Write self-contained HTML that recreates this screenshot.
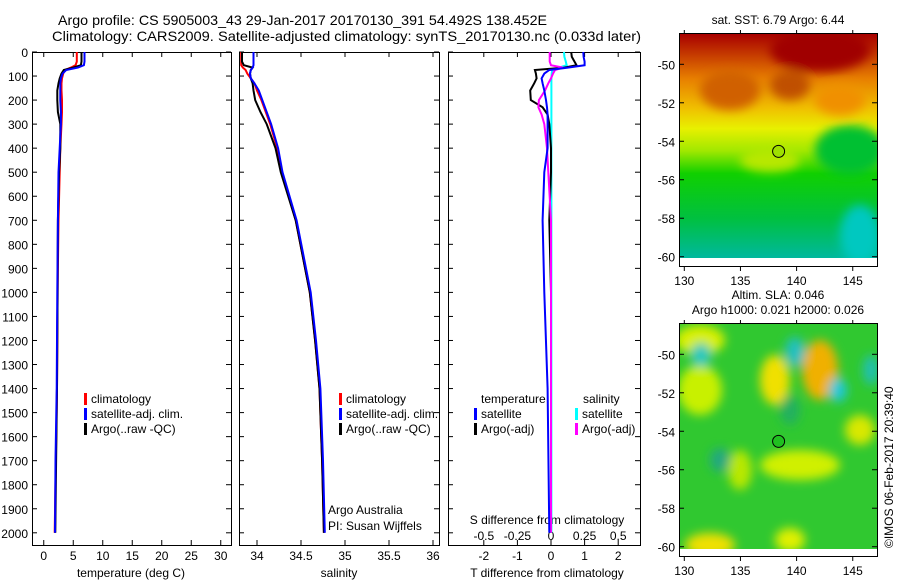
<!DOCTYPE html>
<html><head><meta charset="utf-8"><style>
body{margin:0;background:#fff;}
svg{display:block;font-family:"Liberation Sans",sans-serif;}
</style></head><body>
<svg id="s" width="900" height="580" viewBox="0 0 900 580">
<defs>
<linearGradient id="sst" x1="0" y1="0" x2="0" y2="1">
<stop offset="0" stop-color="#a80000"/><stop offset="0.1" stop-color="#c84000"/><stop offset="0.2" stop-color="#e88000"/><stop offset="0.33" stop-color="#f0c000"/><stop offset="0.42" stop-color="#e8f000"/><stop offset="0.52" stop-color="#a0e800"/><stop offset="0.62" stop-color="#10d000"/><stop offset="0.82" stop-color="#00c040"/><stop offset="1" stop-color="#00b8a0"/>
</linearGradient>
<filter id="bl"><feGaussianBlur stdDeviation="5"/></filter>
<clipPath id="c1"><rect x="679" y="34" width="198" height="225"/></clipPath>
<clipPath id="c2"><rect x="679" y="324" width="198" height="225"/></clipPath>
</defs>
<text x="58" y="25" font-size="14" textLength="489" lengthAdjust="spacingAndGlyphs">Argo profile: CS 5905003_43 29-Jan-2017 20170130_391 54.492S 138.452E</text>
<text x="52" y="41" font-size="14" textLength="589" lengthAdjust="spacingAndGlyphs">Climatology: CARS2009. Satellite-adjusted climatology: synTS_20170130.nc (0.033d later)</text>
<g id="maps">
<text x="778" y="24" font-size="12" text-anchor="middle">sat. SST: 6.79 Argo: 6.44</text>
<g clip-path="url(#c1)">
<rect x="679" y="34" width="198" height="225" fill="url(#sst)"/>
<g filter="url(#bl)">
<ellipse cx="820" cy="50" rx="50" ry="22" fill="#a00000"/>
<ellipse cx="730" cy="90" rx="30" ry="20" fill="#d06000"/>
<ellipse cx="790" cy="85" rx="20" ry="15" fill="#c05000"/>
<ellipse cx="840" cy="100" rx="25" ry="15" fill="#f09000"/>
<ellipse cx="850" cy="150" rx="35" ry="25" fill="#00c030"/>
<ellipse cx="770" cy="160" rx="30" ry="12" fill="#b8e800"/>
<ellipse cx="860" cy="235" rx="20" ry="30" fill="#00c8c0"/>
</g>
</g>
<rect x="679" y="258" width="198" height="9" fill="#fff"/>
<rect x="679.5" y="33.5" width="198" height="233" fill="none" stroke="#000"/>
<circle cx="778.6" cy="151.4" r="6" fill="#9ee000" stroke="#000"/>
<text x="778" y="299" font-size="12" text-anchor="middle">Altim. SLA: 0.046</text>
<text x="778" y="314" font-size="12" text-anchor="middle">Argo h1000: 0.021 h2000: 0.026</text>
<g clip-path="url(#c2)">
<rect x="679" y="324" width="198" height="225" fill="#30c830"/>
<g filter="url(#bl)">
<ellipse cx="700" cy="340" rx="25" ry="15" fill="#d8f000"/>
<ellipse cx="775" cy="380" rx="15" ry="25" fill="#f0e000"/>
<ellipse cx="820" cy="370" rx="18" ry="30" fill="#f0b000"/>
<ellipse cx="700" cy="390" rx="22" ry="25" fill="#c8f000"/>
<ellipse cx="800" cy="465" rx="40" ry="15" fill="#d0f000"/>
<ellipse cx="860" cy="430" rx="15" ry="15" fill="#d8e800"/>
<ellipse cx="710" cy="545" rx="25" ry="12" fill="#f0e000"/>
<ellipse cx="790" cy="540" rx="15" ry="12" fill="#e0f000"/>
<ellipse cx="740" cy="470" rx="12" ry="20" fill="#b8e800"/>
<ellipse cx="701" cy="355" rx="10" ry="12" fill="#20c8c0"/>
<ellipse cx="795" cy="352" rx="10" ry="15" fill="#20c0c0"/>
<ellipse cx="838" cy="390" rx="9" ry="12" fill="#20c8d8"/>
<ellipse cx="871" cy="370" rx="8" ry="15" fill="#20c0b0"/>
<ellipse cx="720" cy="460" rx="10" ry="12" fill="#20a880"/>
<ellipse cx="790" cy="410" rx="10" ry="15" fill="#20b060"/>
</g>
</g>
<rect x="679" y="549" width="198" height="8" fill="#fff"/>
<rect x="679.5" y="323.5" width="198" height="233" fill="none" stroke="#000"/>
<circle cx="778.6" cy="441.4" r="6" fill="#20c020" stroke="#000"/>
<text transform="translate(893,548) rotate(-90)" font-size="12">©IMOS 06-Feb-2017 20:39:40</text>
</g>
</svg>
<script>
const depthTicks=[0,100,200,300,400,500,600,700,800,900,1000,1100,1200,1300,1400,1500,1600,1700,1800,1900,2000];
const tempTicks=[0,5,10,15,20,25,30];
const salTicks=[34,34.5,35,35.5,36];
const tdTicks=[-2,-1,0,1,2];
const sdTicks=[-0.5,-0.25,0,0.25,0.5];
const sdLabels=["-0.5","-0.25","0","0.25","0.5"];
const latTicks=[-50,-52,-54,-56,-58,-60];
const lonTicks=[130,135,140,145];
const depths=[0,20,40,55,65,75,90,110,130,160,200,250,300,400,500,700,1000,1200,1400,1700,2000];
const tempClim=[5.6,5.6,5.6,5.4,4.6,3.6,3.3,3.1,3.0,3.0,3.1,3.1,3.0,2.8,2.7,2.5,2.35,2.3,2.25,2.05,1.85];
const tempSat=[6.9,6.9,6.9,6.8,5.8,3.8,3.2,2.9,2.8,2.8,2.8,2.9,2.9,2.7,2.5,2.4,2.3,2.25,2.2,2.0,1.9];
const tempArgo=[6.4,6.4,6.4,6.3,5.0,3.4,3.0,2.7,2.5,2.3,2.3,2.4,2.8,2.8,2.6,2.4,2.35,2.3,2.25,2.1,1.95];
const salClim=[33.82,33.82,33.82,33.82,33.84,33.87,33.89,33.93,33.97,34.0,34.05,34.1,34.15,34.23,34.28,34.44,34.60,34.66,34.71,34.74,34.76];
const salSat=[33.96,33.96,33.96,33.96,33.95,33.93,33.92,33.93,33.97,34.02,34.06,34.11,34.16,34.24,34.29,34.45,34.61,34.67,34.72,34.75,34.77];
const salArgo=[33.83,33.83,33.83,33.85,33.95,33.93,33.92,33.93,33.95,33.96,33.98,34.04,34.11,34.21,34.27,34.44,34.60,34.66,34.71,34.74,34.76];
const diffDepths=[0,20,40,55,65,75,90,110,130,160,200,230,260,300,400,500,700,1000,1400,2000];
const tdSat=[0.96,0.97,1.0,1.0,0.5,-0.05,-0.2,-0.28,-0.25,-0.2,-0.15,-0.12,-0.1,-0.1,-0.1,-0.2,-0.25,-0.2,-0.1,-0.05];
const tdArgo=[0.6,0.62,0.7,0.76,0.4,-0.48,-0.45,-0.43,-0.5,-0.62,-0.6,-0.25,-0.1,-0.05,0,0,-0.05,0,0,0];
const sdSat=[0.097,0.1,0.11,0.117,0.06,0.01,0.005,0.003,0.003,0.003,0.003,0.003,0.003,0.003,0.003,0.003,0.003,0.003,0.003,0.003];
const sdArgo=[-0.01,-0.01,-0.01,0,0.09,0.03,0.015,0.0,-0.02,-0.045,-0.09,-0.094,-0.07,-0.05,-0.03,-0.02,0,0,0,0];

const NS='http://www.w3.org/2000/svg';
const svg=document.getElementById('s');
function mk(tag,attrs,parent){const e=document.createElementNS(NS,tag);for(const k in attrs)e.setAttribute(k,attrs[k]);(parent||svg).appendChild(e);return e;}
const yD=d=>52+d*0.2404;
const xT=v=>43.75+v*5.9;
const xS=v=>257+(v-34)*88;
const xTD=v=>551+v*33.6;
const xSD=v=>551+v*134.4;
const PT=545;
const panels=[{x0:32,x1:231,name:'temperature-panel'},{x0:239,x1:439,name:'salinity-panel'},{x0:448,x1:640,name:'difference-panel'}];
panels.forEach(p=>{
  const r=mk('rect',{x:p.x0+0.5,y:52.5,width:p.x1-p.x0,height:PT-52,fill:'none',stroke:'#000'});
  
  
  depthTicks.forEach(d=>{
    mk('line',{x1:p.x0,x2:p.x0+5,y1:yD(d),y2:yD(d),stroke:'#000'});
    mk('line',{x1:p.x1-5,x2:p.x1,y1:yD(d),y2:yD(d),stroke:'#000'});
  });
});
depthTicks.forEach(d=>{
  const t=mk('text',{x:28,y:yD(d)+5,'font-size':12,'text-anchor':'end'});
  t.textContent=d;
  
  
});
function xticks(ticks,labels,fx,y,name,p){
  ticks.forEach((v,i)=>{
    const x=fx(v);
    if(p){mk('line',{x1:x,x2:x,y1:52,y2:57,stroke:'#000'});mk('line',{x1:x,x2:x,y1:PT-5,y2:PT,stroke:'#000'});}
    const t=mk('text',{x:x,y:y,'font-size':12,'text-anchor':'middle'});
    t.textContent=labels?labels[i]:v;
    
    
  });
}
xticks(tempTicks,null,xT,560,'temperature-tick-label',true);
xticks(salTicks,null,xS,560,'salinity-tick-label',true);
xticks(tdTicks,null,xTD,560,'tdiff-tick-label',true);
xticks(sdTicks,sdLabels,xSD,540,'sdiff-tick-label',false);
function label(x,y,txt,name,anchor){const t=mk('text',{x:x,y:y,'font-size':12,'text-anchor':anchor||'start'});t.textContent=txt;return t;}
label(131,577,'temperature (deg C)','temperature-axis-title','middle');
label(339,577,'salinity','salinity-axis-title','middle');
label(547,577,'T difference from climatology','tdiff-axis-title','middle');
label(547,524,'S difference from climatology','sdiff-axis-title','middle');
label(328,514,'Argo Australia','argo-australia-label');
label(328,530,'PI: Susan Wijffels','pi-label');
function line(xs,ds,fx,col,name,w){
  let dstr='';
  xs.forEach((v,i)=>{dstr+=(i?'L':'M')+fx(v).toFixed(1)+' '+yD(ds[i]).toFixed(1);});
  const p=mk('path',{d:dstr,fill:'none',stroke:col,'stroke-width':w||2});
  
  
}
line(tempClim,depths,xT,'#f00','temp-climatology-line');
line(tempArgo,depths,xT,'#000','temp-argo-line');
line(tempSat,depths,xT,'#00f','temp-satellite-line');
line(salClim,depths,xS,'#f00','sal-climatology-line');
line(salArgo,depths,xS,'#000','sal-argo-line');
line(salSat,depths,xS,'#00f','sal-satellite-line');
line(sdSat,diffDepths,xSD,'#0ff','sdiff-satellite-line');
line(tdArgo,diffDepths,xTD,'#000','tdiff-argo-line');
line(sdArgo,diffDepths,xSD,'#f0f','sdiff-argo-line');
line(tdSat,diffDepths,xTD,'#00f','tdiff-satellite-line');
function leg(x,y,col,txt,name){
  const g=mk('g',{});
  
  
  mk('rect',{x:x,y:y-10,width:3,height:12,fill:col},g);
  const t=mk('text',{x:x+7,y:y,'font-size':12},g);t.textContent=txt;
}
[[84,'temp'],[339,'sal']].forEach(([x,n])=>{
  leg(x,403,'#f00','climatology',n+'-legend-climatology');
  leg(x,418,'#00f','satellite-adj. clim.',n+'-legend-satellite');
  leg(x,433,'#000','Argo(..raw -QC)',n+'-legend-argo');
});
label(481,403,'temperature','legend-temperature-header');
label(583,403,'salinity','legend-salinity-header');
leg(474,418,'#00f','satellite','legend-tdiff-satellite');
leg(474,433,'#000','Argo(-adj)','legend-tdiff-argo');
leg(575,418,'#0ff','satellite','legend-sdiff-satellite');
leg(575,433,'#f0f','Argo(-adj)','legend-sdiff-argo');
const lonX=v=>684.3+(v-130)*11.23;
[[0,'sst'],[290,'sla']].forEach(([off,n])=>{
  const latY=v=>64.3+off+(-50-v)*19.24;
  latTicks.forEach(v=>{
    mk('line',{x1:679,x2:684,y1:latY(v),y2:latY(v),stroke:'#000'});
    mk('line',{x1:872,x2:877,y1:latY(v),y2:latY(v),stroke:'#000'});
    const t=mk('text',{x:675,y:latY(v)+5,'font-size':12,'text-anchor':'end'});t.textContent=v;
    
    
  });
  lonTicks.forEach(v=>{
    mk('line',{x1:lonX(v),x2:lonX(v),y1:34+off,y2:30+off,stroke:'#000'});
    mk('line',{x1:lonX(v),x2:lonX(v),y1:267+off,y2:271+off,stroke:'#000'});
    const t=mk('text',{x:lonX(v),y:285+off,'font-size':12,'text-anchor':'middle'});t.textContent=v;
    
    
  });
});
</script>
</body></html>
